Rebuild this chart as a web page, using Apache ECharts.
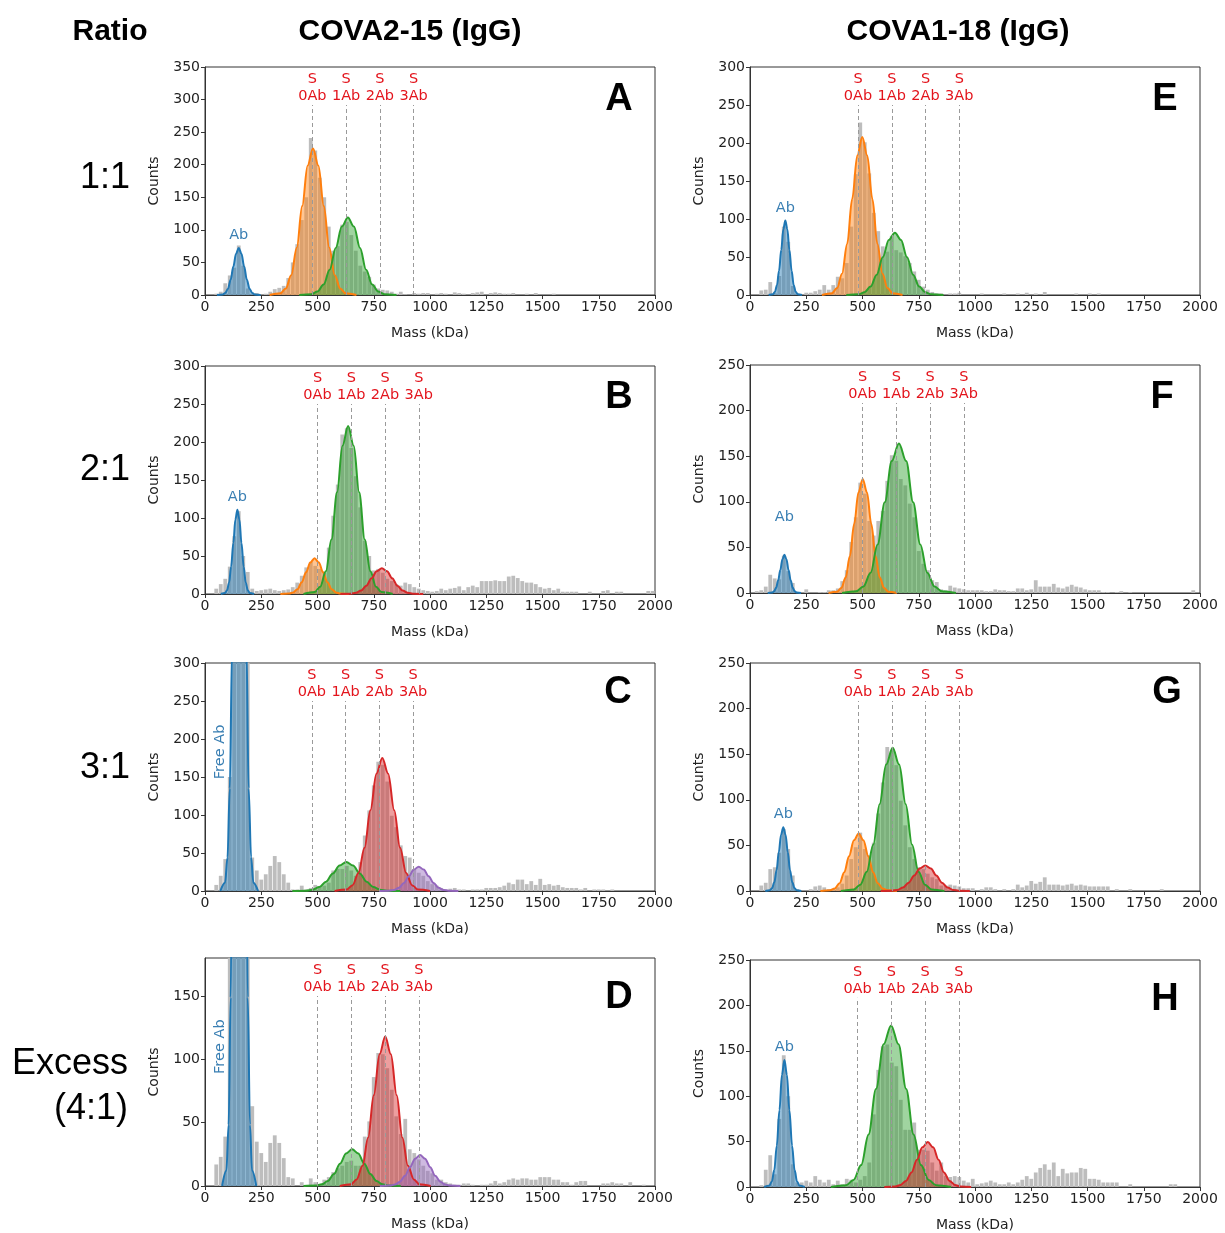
<!DOCTYPE html>
<html>
<head>
<meta charset="utf-8">
<script src="https://cdn.jsdelivr.net/npm/echarts@6.0.0/dist/echarts.min.js"></script>
<style>
  html, body { margin: 0; padding: 0; background: #fff; }
  #chart { width: 1225px; height: 1233px; }
</style>
</head>
<body>
<div id="chart"></div>
<script>
// histogram bin centres (kDa), 20 kDa bins
const massBins = [
  10, 30, 50, 70, 90, 110, 130, 150, 170, 190,
  210, 230, 250, 270, 290, 310, 330, 350, 370, 390,
  410, 430, 450, 470, 490, 510, 530, 550, 570, 590,
  610, 630, 650, 670, 690, 710, 730, 750, 770, 790,
  810, 830, 850, 870, 890, 910, 930, 950, 970, 990,
  1010, 1030, 1050, 1070, 1090, 1110, 1130, 1150, 1170, 1190,
  1210, 1230, 1250, 1270, 1290, 1310, 1330, 1350, 1370, 1390,
  1410, 1430, 1450, 1470, 1490, 1510, 1530, 1550, 1570, 1590,
  1610, 1630, 1650, 1670, 1690, 1710, 1730, 1750, 1770, 1790,
  1810, 1830, 1850, 1870, 1890, 1910, 1930, 1950, 1970, 1990
]

// counts per bin, one array per panel
const countsA = [
  0, 0, 2, 5, 18, 30, 42, 76, 45, 10,
  2, 3, 0, 2, 5, 9, 11, 14, 26, 50,
  78, 115, 150, 241, 222, 180, 150, 105, 68, 75,
  108, 112, 92, 68, 45, 36, 28, 16, 10, 8,
  7, 5, 2, 5, 1, 0, 3, 2, 3, 3,
  0, 2, 3, 2, 0, 4, 3, 2, 0, 3,
  4, 5, 0, 3, 4, 3, 2, 2, 3, 0,
  0, 2, 0, 3, 0, 0, 0, 2, 0, 0,
  0, 0, 0, 0, 0, 0, 0, 0, 0, 0,
  0, 0, 0, 0, 0, 0, 0, 0, 0, 0
]
const countsB = [
  0, 0, 7, 13, 20, 36, 76, 109, 50, 29,
  7, 4, 5, 6, 7, 5, 4, 5, 6, 9,
  15, 24, 35, 42, 37, 33, 28, 61, 103, 144,
  210, 218, 192, 155, 114, 70, 50, 31, 33, 28,
  20, 17, 13, 11, 15, 13, 9, 7, 5, 4,
  3, 4, 7, 5, 7, 8, 10, 5, 9, 11,
  9, 17, 17, 17, 18, 17, 17, 23, 24, 21,
  17, 15, 15, 13, 9, 7, 8, 5, 7, 3,
  3, 3, 3, 0, 0, 3, 0, 0, 4, 5,
  0, 3, 3, 0, 0, 0, 0, 0, 4, 4
]
const countsC = [
  0, 0, 8, 20, 42, 150, 600, 950, 800, 330,
  44, 27, 15, 22, 33, 46, 38, 22, 11, 2,
  2, 7, 2, 4, 8, 6, 7, 11, 27, 29,
  29, 33, 27, 20, 38, 73, 106, 139, 170, 166,
  144, 99, 84, 60, 46, 44, 29, 24, 20, 13,
  9, 7, 4, 2, 3, 4, 2, 2, 0, 2,
  2, 2, 4, 4, 4, 5, 7, 11, 9, 15,
  15, 9, 13, 8, 16, 8, 9, 7, 8, 5,
  4, 4, 4, 2, 4, 0, 2, 2, 2, 0,
  2, 0, 0, 0, 0, 0, 0, 0, 0, 0
]
const countsD = [
  0, 0, 17, 23, 39, 250, 800, 1100, 700, 200,
  63, 35, 26, 19, 34, 40, 34, 22, 7, 6,
  0, 3, 0, 6, 3, 1, 5, 7, 11, 14,
  16, 19, 20, 16, 16, 39, 51, 86, 105, 104,
  93, 76, 55, 41, 53, 29, 26, 21, 16, 12,
  10, 5, 5, 3, 2, 1, 1, 2, 2, 1,
  0, 1, 1, 2, 4, 2, 3, 5, 6, 5,
  6, 6, 5, 5, 7, 7, 7, 5, 5, 3,
  3, 1, 3, 4, 4, 0, 0, 0, 2, 2,
  3, 2, 2, 0, 3, 0, 0, 1, 0, 0
]
const countsE = [
  0, 0, 6, 7, 17, 3, 25, 90, 70, 12,
  2, 0, 3, 3, 5, 7, 13, 7, 13, 24,
  22, 42, 90, 159, 227, 201, 160, 108, 84, 64,
  57, 78, 59, 56, 51, 42, 31, 20, 11, 7,
  4, 2, 2, 0, 2, 2, 3, 0, 0, 0,
  0, 2, 0, 0, 0, 0, 2, 0, 0, 2,
  0, 3, 0, 2, 0, 4, 0, 0, 0, 0,
  0, 0, 2, 0, 0, 2, 0, 2, 0, 0,
  0, 0, 0, 0, 0, 0, 0, 0, 0, 0,
  0, 0, 0, 0, 0, 0, 0, 0, 0, 0
]
const countsF = [
  0, 2, 3, 7, 20, 16, 15, 41, 24, 11,
  0, 0, 4, 0, 0, 1, 1, 3, 3, 5,
  13, 25, 56, 83, 121, 109, 79, 63, 79, 90,
  123, 151, 145, 125, 118, 98, 83, 46, 32, 25,
  14, 12, 4, 3, 8, 6, 5, 4, 3, 3,
  3, 3, 2, 2, 4, 3, 3, 2, 2, 5,
  5, 3, 4, 14, 7, 7, 7, 10, 6, 5,
  7, 9, 7, 6, 4, 3, 3, 3, 1, 1,
  0, 1, 2, 0, 1, 0, 0, 0, 0, 0,
  0, 0, 0, 0, 0, 0, 0, 0, 3, 0
]
const countsG = [
  0, 0, 6, 9, 24, 26, 42, 68, 46, 17,
  2, 0, 0, 2, 5, 6, 4, 2, 2, 4,
  8, 17, 35, 48, 64, 46, 39, 53, 85, 119,
  158, 154, 138, 99, 72, 48, 35, 26, 24, 19,
  15, 13, 6, 6, 7, 6, 5, 3, 3, 3,
  0, 2, 4, 4, 2, 0, 2, 0, 2, 7,
  4, 6, 11, 8, 10, 15, 7, 7, 7, 6,
  7, 8, 6, 7, 6, 5, 5, 5, 5, 5,
  0, 2, 0, 0, 2, 0, 0, 0, 0, 0,
  0, 2, 0, 0, 0, 0, 0, 0, 0, 0
]
const countsH = [
  0, 0, 2, 19, 35, 14, 75, 145, 100, 25,
  5, 5, 7, 5, 12, 8, 5, 8, 3, 7,
  3, 9, 8, 5, 8, 12, 27, 80, 129, 155,
  157, 137, 133, 96, 63, 63, 71, 41, 41, 40,
  27, 18, 27, 12, 11, 12, 11, 7, 5, 9,
  3, 4, 5, 7, 5, 3, 3, 5, 3, 5,
  8, 12, 9, 16, 21, 25, 19, 27, 12, 20,
  15, 16, 16, 21, 20, 9, 9, 8, 5, 5,
  5, 5, 0, 0, 3, 0, 0, 0, 0, 0,
  0, 0, 0, 3, 3, 0, 0, 0, 0, 0
]

// fitted peak curves, [mass, count] points
const aBlue = [[53, 0], [78, 0.8], [90, 3.2], [102, 9.7], [114, 23.4], [126, 43.7], [138, 63.5], [150, 72], [162, 63.5], [174, 43.7], [186, 23.4], [198, 9.7], [210, 3.2], [222, 0.8], [247, 0]]
const aOrange = [[287, 0], [335, 2.5], [359, 9.9], [383, 30.4], [408, 73.1], [432, 136.5], [456, 198.6], [480, 225], [504, 198.6], [528, 136.5], [552, 73.1], [577, 30.4], [601, 9.9], [625, 2.5], [673, 0]]
const aGreen = [[419, 0], [473, 1.3], [500, 5.2], [527, 16.1], [554, 38.6], [581, 72.2], [608, 105], [635, 119], [662, 105], [689, 72.2], [716, 38.6], [743, 16.1], [770, 5.2], [797, 1.3], [851, 0]]

const bBlue = [[70, 0], [89, 1.2], [98, 4.9], [107, 15], [116, 36], [126, 67.3], [135, 98], [144, 111], [153, 98], [162, 67.3], [172, 36], [181, 15], [190, 4.9], [199, 1.2], [218, 0]]
const bOrange = [[335, 0], [373, 0.5], [392, 2.1], [411, 6.4], [430, 15.3], [449, 28.5], [468, 41.5], [487, 47], [506, 41.5], [525, 28.5], [544, 15.3], [563, 6.4], [582, 2.1], [601, 0.5], [639, 0]]
const bGreen = [[438, 0], [488, 2.5], [512, 9.7], [537, 29.9], [562, 71.8], [587, 134], [611, 195], [636, 221], [661, 195], [685, 134], [710, 71.8], [735, 29.9], [760, 9.7], [784, 2.5], [834, 0]]
const bRed = [[602, 0], [648, 0.4], [671, 1.5], [694, 4.6], [717, 11], [740, 20.6], [763, 30], [786, 34], [809, 30], [832, 20.6], [855, 11], [878, 4.6], [901, 1.5], [924, 0.4], [970, 0]]

const cBlue = [[68, 0], [89, 11], [100, 44], [110, 135], [121, 325], [131, 607], [142, 882], [152, 1000], [163, 882], [173, 607], [184, 325], [194, 135], [205, 44], [215, 11], [236, 0]]
const cGreen = [[388, 0], [448, 0.4], [478, 1.7], [508, 5.1], [538, 12.3], [568, 23], [598, 33.5], [628, 38], [658, 33.5], [688, 23], [718, 12.3], [748, 5.1], [778, 1.7], [808, 0.4], [868, 0]]
const cRed = [[576, 0], [629, 1.9], [656, 7.7], [682, 23.7], [709, 56.8], [735, 106.1], [762, 154.4], [788, 175], [814, 154.4], [841, 106.1], [867, 56.8], [894, 23.7], [920, 7.7], [947, 1.9], [1000, 0]]
const cPurple = [[774, 0], [818, 0.4], [840, 1.4], [862, 4.3], [884, 10.4], [906, 19.4], [928, 28.2], [950, 32], [972, 28.2], [994, 19.4], [1016, 10.4], [1038, 4.3], [1060, 1.4], [1082, 0.4], [1126, 0]]

const dBlue = [[76, 0], [95, 12.2], [105, 48.3], [114, 148.8], [124, 357], [133, 667], [143, 971], [152, 1100], [162, 971], [171, 667], [181, 357], [190, 148.8], [200, 48.3], [209, 12.2], [228, 0]]
const dGreen = [[438, 0], [492, 0.3], [519, 1.3], [546, 3.9], [573, 9.4], [600, 17.6], [627, 25.6], [654, 29], [681, 25.6], [708, 17.6], [735, 9.4], [762, 3.9], [789, 1.3], [816, 0.3], [870, 0]]
const dRed = [[599, 0], [649, 1.3], [674, 5.2], [700, 16], [725, 38.3], [750, 71.6], [776, 104.1], [801, 118], [826, 104.1], [852, 71.6], [877, 38.3], [902, 16], [928, 5.2], [953, 1.3], [1003, 0]]
const dPurple = [[777, 0], [821, 0.3], [844, 1.1], [866, 3.3], [889, 8], [911, 14.9], [934, 21.6], [956, 24.5], [978, 21.6], [1001, 14.9], [1023, 8], [1046, 3.3], [1068, 1.1], [1091, 0.3], [1135, 0]]

const eBlue = [[83, 0], [102, 1.1], [111, 4.3], [120, 13.3], [129, 31.8], [139, 59.4], [148, 86.5], [157, 98], [166, 86.5], [175, 59.4], [185, 31.8], [194, 13.3], [203, 4.3], [212, 1.1], [231, 0]]
const eOrange = [[320, 0], [364, 2.3], [387, 9.1], [409, 28.1], [432, 67.5], [454, 126.2], [477, 183.6], [499, 208], [521, 183.6], [544, 126.2], [566, 67.5], [589, 28.1], [611, 9.1], [634, 2.3], [678, 0]]
const eGreen = [[428, 0], [482, 0.9], [509, 3.6], [536, 11.1], [563, 26.6], [590, 49.7], [617, 72.4], [644, 82], [671, 72.4], [698, 49.7], [725, 26.6], [752, 11.1], [779, 3.6], [806, 0.9], [860, 0]]

const fBlue = [[79, 0], [98, 0.5], [107, 1.8], [116, 5.7], [125, 13.6], [135, 25.5], [144, 37.1], [153, 42], [162, 37.1], [171, 25.5], [181, 13.6], [190, 5.7], [199, 1.8], [208, 0.5], [227, 0]]
const fOrange = [[349, 0], [387, 1.4], [406, 5.5], [425, 16.9], [444, 40.6], [463, 75.8], [482, 110.3], [501, 125], [520, 110.3], [539, 75.8], [558, 40.6], [577, 16.9], [596, 5.5], [615, 1.4], [653, 0]]
const fGreen = [[409, 0], [472, 1.8], [504, 7.2], [536, 22.2], [567, 53.3], [599, 99.5], [630, 144.7], [662, 164], [694, 144.7], [725, 99.5], [757, 53.3], [788, 22.2], [820, 7.2], [852, 1.8], [915, 0]]

const gBlue = [[68, 0], [88, 0.8], [98, 3.1], [108, 9.5], [118, 22.7], [128, 42.5], [138, 61.8], [148, 70], [158, 61.8], [168, 42.5], [178, 22.7], [188, 9.5], [198, 3.1], [208, 0.8], [228, 0]]
const gOrange = [[313, 0], [355, 0.7], [377, 2.8], [398, 8.5], [419, 20.5], [440, 38.2], [462, 55.6], [483, 63], [504, 55.6], [526, 38.2], [547, 20.5], [568, 8.5], [589, 2.8], [611, 0.7], [653, 0]]
const gGreen = [[404, 0], [461, 1.7], [490, 6.9], [519, 21.2], [548, 51], [576, 95.2], [605, 138.6], [634, 157], [663, 138.6], [692, 95.2], [720, 51], [749, 21.2], [778, 6.9], [807, 1.7], [864, 0]]
const gRed = [[581, 0], [631, 0.3], [655, 1.2], [680, 3.8], [705, 9.1], [730, 17], [754, 24.7], [779, 28], [804, 24.7], [828, 17], [853, 9.1], [878, 3.8], [903, 1.2], [927, 0.3], [977, 0]]

const hBlue = [[63, 0], [86, 1.6], [97, 6.1], [108, 18.9], [119, 45.5], [131, 84.9], [142, 123.6], [153, 140], [164, 123.6], [175, 84.9], [187, 45.5], [198, 18.9], [209, 6.1], [220, 1.6], [243, 0]]
const hGreen = [[360, 0], [427, 2], [460, 7.8], [494, 24.1], [527, 57.8], [560, 108], [594, 157.1], [627, 178], [660, 157.1], [694, 108], [727, 57.8], [760, 24.1], [794, 7.8], [827, 2], [894, 0]]
const hRed = [[597, 0], [645, 0.5], [669, 2.2], [693, 6.7], [718, 16.1], [742, 30], [766, 43.7], [790, 49.5], [814, 43.7], [838, 30], [862, 16.1], [887, 6.7], [911, 2.2], [935, 0.5], [983, 0]]

// expected S-trimer + n antibody masses (dashed lines)
const sLinesA = [477, 627, 777, 927]
const sLinesB = [500, 650, 800, 950]
const sLinesC = [475, 625, 775, 925]
const sLinesD = [500, 650, 800, 950]
const sLinesE = [480, 630, 780, 930]
const sLinesF = [500, 650, 800, 950]
const sLinesG = [480, 630, 780, 930]
const sLinesH = [478, 628, 778, 928]
const sLabels = ['S\n0Ab', 'S\n1Ab', 'S\n2Ab', 'S\n3Ab']

const yTicks = { A: 350, B: 300, C: 300, D: 180, E: 300, F: 250, G: 250, H: 250 }

const BLUE = '#1f77b4'
const ORANGE = '#ff7f0e'
const GREEN = '#2ca02c'
const RED = '#d62728'
const PURPLE = '#9467bd'
const TICK_FONT = 'DejaVu Sans'
const HEAD_FONT = 'Liberation Sans'

const panels = [
  { key: 'A', left: 205, top: 67, counts: countsA, sLines: sLinesA, fits: [[aBlue, BLUE], [aOrange, ORANGE], [aGreen, GREEN]], ab: [150, 72, 'Ab'], letter: [619, 100] },
  { key: 'B', left: 205, top: 366, counts: countsB, sLines: sLinesB, fits: [[bBlue, BLUE], [bOrange, ORANGE], [bGreen, GREEN], [bRed, RED]], ab: [144, 111, 'Ab'], letter: [619, 398] },
  { key: 'C', left: 205, top: 663, counts: countsC, sLines: sLinesC, fits: [[cBlue, BLUE], [cGreen, GREEN], [cRed, RED], [cPurple, PURPLE]], free: [68, 183], letter: [618, 693] },
  { key: 'D', left: 205, top: 958, counts: countsD, sLines: sLinesD, fits: [[dBlue, BLUE], [dGreen, GREEN], [dRed, RED], [dPurple, PURPLE]], free: [68, 110], letter: [619, 998] },
  { key: 'E', left: 750, top: 67, counts: countsE, sLines: sLinesE, fits: [[eBlue, BLUE], [eOrange, ORANGE], [eGreen, GREEN]], ab: [157, 98, 'Ab'], letter: [1165, 100] },
  { key: 'F', left: 750, top: 365, counts: countsF, sLines: sLinesF, fits: [[fBlue, BLUE], [fOrange, ORANGE], [fGreen, GREEN]], ab: [153, 42, 'Ab'], abGap: 30, letter: [1162, 398] },
  { key: 'G', left: 750, top: 663, counts: countsG, sLines: sLinesG, fits: [[gBlue, BLUE], [gOrange, ORANGE], [gGreen, GREEN], [gRed, RED]], ab: [148, 70, 'Ab'], letter: [1167, 693] },
  { key: 'H', left: 750, top: 960, counts: countsH, sLines: sLinesH, fits: [[hBlue, BLUE], [hGreen, GREEN], [hRed, RED]], ab: [153, 140, 'Ab'], letter: [1165, 1000] }
]

const GRID_W = 450
const GRID_H = 228
const axisColor = '#333'

const grids = []
const xAxes = []
const yAxes = []
const series = []
const graphics = []

panels.forEach((p, i) => {
  const yMax = yTicks[p.key]
  grids.push({
    left: p.left, top: p.top, width: GRID_W, height: GRID_H,
    show: true, borderColor: axisColor, borderWidth: 1, backgroundColor: 'transparent'
  })
  xAxes.push({
    gridIndex: i, type: 'value', min: 0, max: 2000, interval: 250,
    name: 'Mass (kDa)', nameLocation: 'middle', nameGap: 31,
    nameTextStyle: { fontSize: 14, color: '#222', fontFamily: TICK_FONT },
    axisLine: { show: true, onZero: false, lineStyle: { color: axisColor } },
    axisTick: { show: true, length: 4, lineStyle: { color: axisColor } },
    axisLabel: { fontSize: 14, color: '#222', fontFamily: TICK_FONT, margin: 5, formatter: (v) => String(v) },
    splitLine: { show: false }
  })
  yAxes.push({
    gridIndex: i, type: 'value', min: 0, max: yMax, interval: 50,
    name: 'Counts', nameLocation: 'middle', nameGap: 44,
    nameTextStyle: { fontSize: 14, color: '#222', fontFamily: TICK_FONT },
    axisLine: { show: true, lineStyle: { color: axisColor } },
    axisTick: { show: true, length: 4, lineStyle: { color: axisColor } },
    axisLabel: { fontSize: 14, color: '#222', fontFamily: TICK_FONT, margin: 5, showMaxLabel: yMax % 50 === 0 },
    splitLine: { show: false }
  })

  // dashed guide lines stop ~38px below the frame top
  const lineTop = yMax * (1 - 38 / GRID_H)
  const markPts = []
  if (p.ab) {
    markPts.push({
      coord: [p.ab[0], p.ab[1]], symbolSize: 0,
      label: { show: true, formatter: p.ab[2], position: 'top', distance: p.abGap || 5,
        color: '#3a7fb3', fontSize: 14.5, fontFamily: TICK_FONT }
    })
  }
  if (p.free) {
    markPts.push({
      coord: [p.free[0], p.free[1]], symbolSize: 0,
      label: { show: true, formatter: 'Free Ab', position: 'inside', rotate: 90,
        color: '#3a7fb3', fontSize: 14.5, fontFamily: TICK_FONT }
    })
  }

  series.push({
    type: 'bar', xAxisIndex: i, yAxisIndex: i,
    data: massBins.map((m, j) => [m, p.counts[j]]),
    barWidth: 3.8, clip: true, silent: true, z: 2,
    itemStyle: { color: '#bdbdbd' },
    markLine: {
      silent: true, symbol: ['none', 'none'], animation: false,
      lineStyle: { color: '#9a9a9a', type: [4, 3], width: 1 },
      label: { show: true, position: 'end', distance: 0, color: '#e3141c', fontSize: 14.5,
        lineHeight: 17, fontFamily: TICK_FONT, align: 'center', formatter: (q) => q.name },
      data: p.sLines.map((m, j) => [
        { name: sLabels[j], coord: [m, 0] },
        { name: sLabels[j], coord: [m, lineTop] }
      ])
    },
    markPoint: markPts.length ? { silent: true, symbol: 'circle', animation: false, data: markPts } : undefined
  })

  p.fits.forEach(([pts, color]) => {
    series.push({
      type: 'line', xAxisIndex: i, yAxisIndex: i, data: pts,
      smooth: 0.35, smoothMonotone: 'x', showSymbol: false, symbol: 'none',
      clip: true, silent: true, z: 3,
      lineStyle: { color: color, width: 2 },
      areaStyle: { color: color, opacity: 0.45 }
    })
  })

  graphics.push({
    type: 'text', x: p.letter[0], y: p.letter[1],
    style: { text: p.key, fontSize: 38, fontWeight: 'bold', fontFamily: HEAD_FONT,
      fill: '#000', textAlign: 'center', textVerticalAlign: 'middle' }
  })
})

const headText = (text, x, y, opts) => ({
  type: 'text', x: x, y: y,
  style: Object.assign({ text: text, fontSize: 31, fontFamily: HEAD_FONT, fill: '#000',
    textAlign: 'center', textVerticalAlign: 'middle' }, opts || {})
})

graphics.push(headText('Ratio', 110, 32, { fontWeight: 'bold', fontSize: 30 }))
graphics.push(headText('COVA2-15 (IgG)', 410, 32, { fontWeight: 'bold', fontSize: 30 }))
graphics.push(headText('COVA1-18 (IgG)', 958, 32, { fontWeight: 'bold', fontSize: 30 }))
graphics.push(headText('1:1', 130, 178, { textAlign: 'right', fontSize: 36 }))
graphics.push(headText('2:1', 130, 470, { textAlign: 'right', fontSize: 36 }))
graphics.push(headText('3:1', 130, 768, { textAlign: 'right', fontSize: 36 }))
graphics.push(headText('Excess', 128, 1064, { textAlign: 'right', fontSize: 36 }))
graphics.push(headText('(4:1)', 128, 1109, { textAlign: 'right', fontSize: 36 }))

const chart = echarts.init(document.getElementById('chart'), null, { renderer: 'canvas' })
chart.setOption({
  animation: false,
  backgroundColor: '#fff',
  grid: grids,
  xAxis: xAxes,
  yAxis: yAxes,
  series: series,
  graphic: graphics
})
</script>
</body>
</html>
